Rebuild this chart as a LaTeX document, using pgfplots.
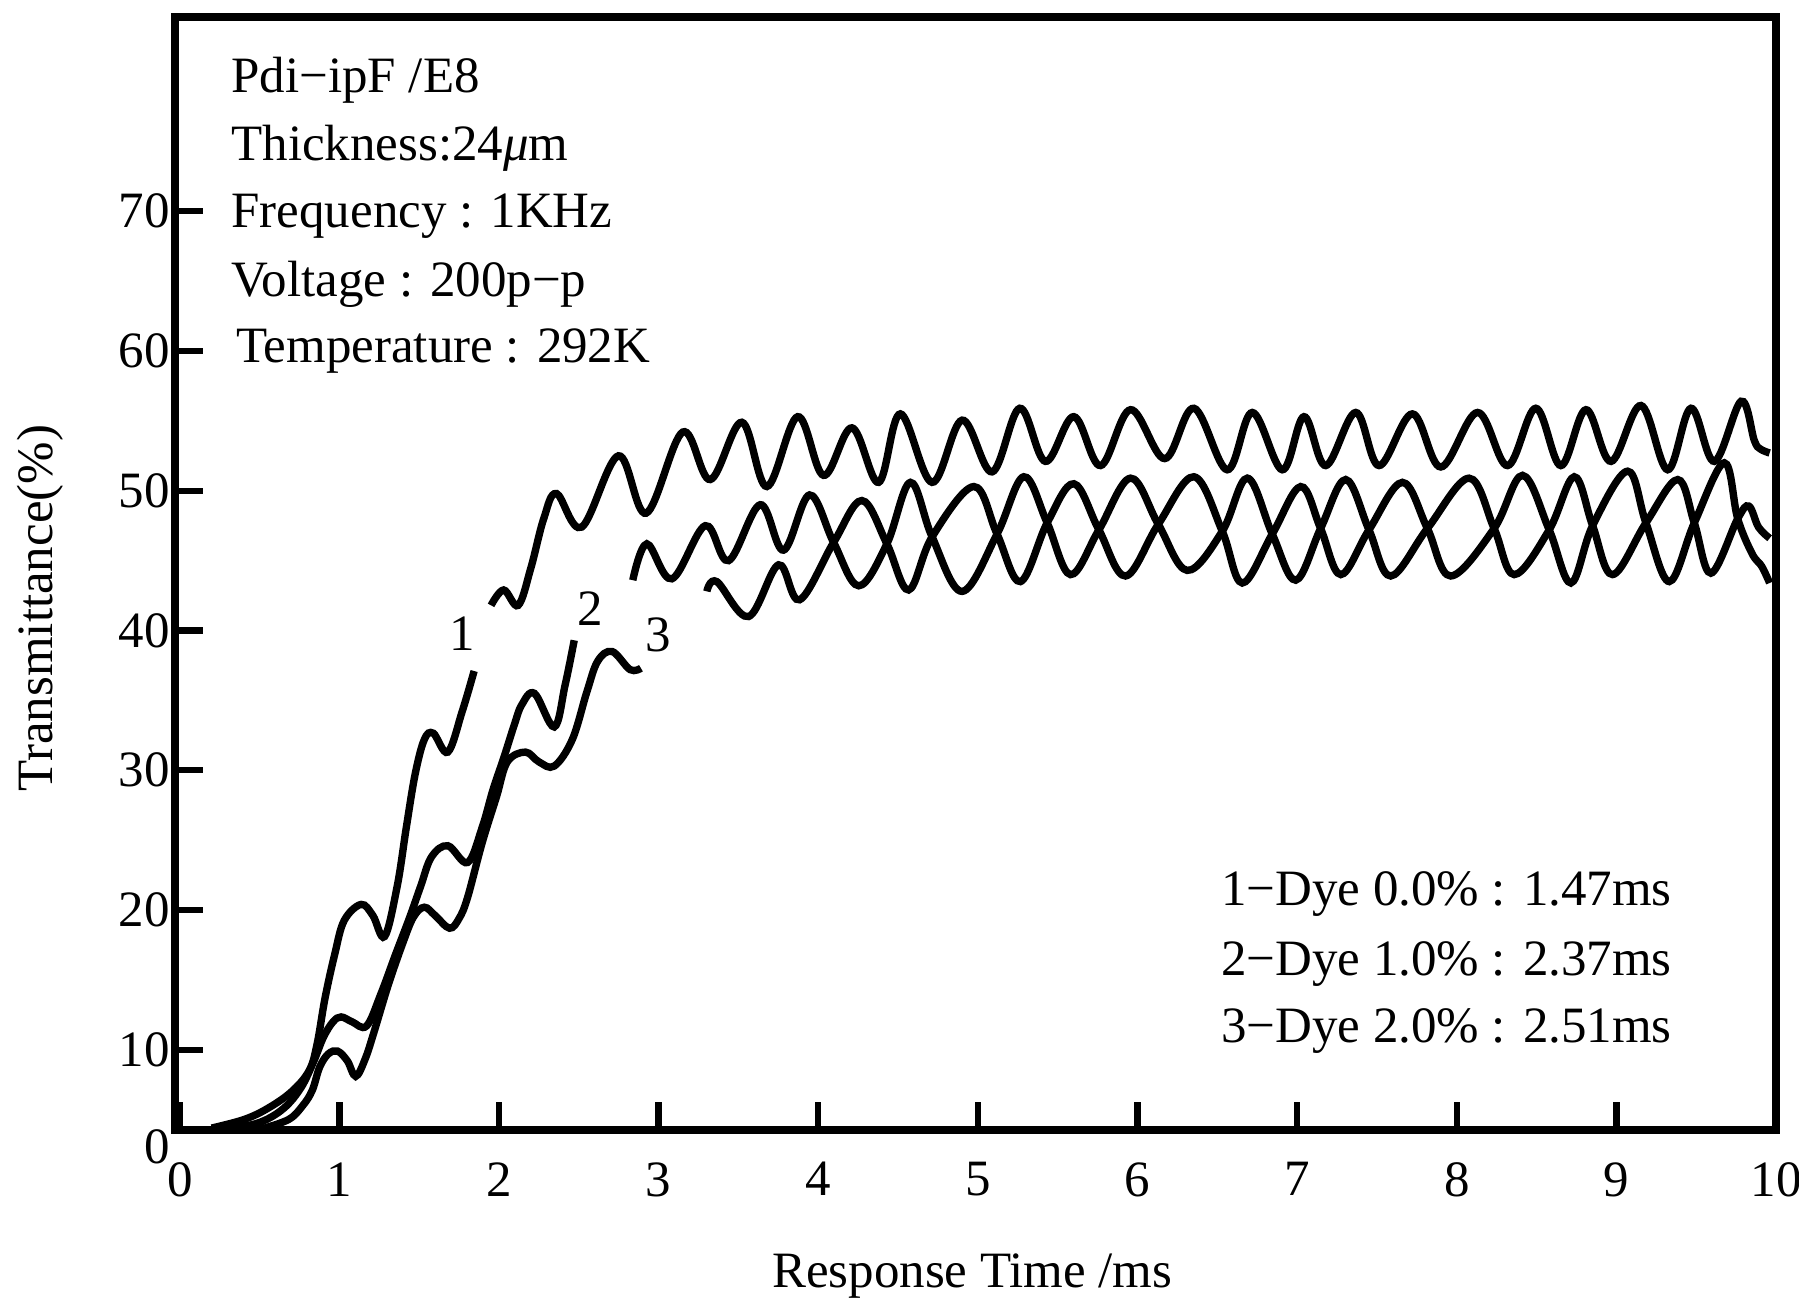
\documentclass[border=0pt]{standalone}
\usepackage{fontspec}
\setmainfont{Liberation Serif}
\usepackage{pgfplots}
\pgfplotsset{compat=1.18}
\begin{document}
\begin{tikzpicture}
\path[use as bounding box] (-1.75cm,-1.73cm) rectangle (16.24cm,11.30cm);
\begin{axis}[
  at={(0,0)}, anchor=south west,
  scale only axis, width=16.01cm, height=11.13cm,
  xmin=-0.03, xmax=10, ymin=4.26, ymax=83.9,
  axis line style={line width=2.2pt},
  xtick={0,1,2,3,4,5,6,7,8,9,10}, xtick pos=bottom,
  ytick={10,20,30,40,50,60,70}, ytick pos=left,
  extra y ticks={4.26}, extra y tick labels={0},
  extra y tick style={major tick length=0pt, yticklabel style={yshift=-0.17cm}},
  tick align=inside,
  major tick length=0.28cm,
  tick style={line width=1.8pt, black},
  /pgf/number format/assume math mode=true,
  ticklabel style={font=\fontsize{14.5}{16}\selectfont},
  xticklabel style={yshift=-0.2cm},
  yticklabel style={xshift=0.07cm},
  xlabel={Response Time /ms},
  ylabel={Transmittance(\%)},
  label style={font=\fontsize{14.5}{17}\selectfont},
  xlabel style={at={(axis description cs:0.498,-0.131)}, anchor=center},
  ylabel style={at={(axis description cs:-0.0843,0.469)}, anchor=center},
  clip=false,
]
% ---- curve 1 ----
\addplot[black, line width=2.1pt, smooth, tension=0.6] coordinates {
(0.20,4.4) (0.40,5.0) (0.55,5.8) (0.70,7.0) (0.81,8.5) (0.86,10.4) (0.91,13.7)
(0.97,16.8) (1.03,19.25) (1.136,20.4) (1.21,19.6) (1.283,18.1) (1.362,21.7)
(1.419,25.9) (1.475,29.75) (1.532,32.2) (1.588,32.65) (1.679,31.3) (1.769,34.2) (1.844,37.1)
};
\addplot[black, line width=2.1pt, smooth, tension=0.6] coordinates {
(1.95,41.8) (2.029,42.9) (2.12,41.8) (2.20,44.5) (2.28,48.0) (2.36,49.8)
(2.518,47.4) (2.748,52.5) (2.922,48.4) (3.151,54.2) (3.323,50.8) (3.521,54.9)
(3.678,50.3) (3.871,55.3) (4.033,51.1) (4.211,54.5) (4.378,50.6) (4.514,55.5)
(4.713,50.6) (4.901,55.05) (5.089,51.35) (5.262,55.9) (5.423,52.1) (5.601,55.3)
(5.768,51.8) (5.956,55.8) (6.170,52.3) (6.353,55.9) (6.562,51.5) (6.719,55.6)
(6.907,51.5) (7.043,55.3) (7.179,51.8) (7.367,55.6) (7.513,51.8) (7.722,55.5)
(7.900,51.7) (8.130,55.6) (8.318,51.8) (8.495,55.9) (8.652,51.8) (8.809,55.8)
(8.966,52.1) (9.154,56.1) (9.321,51.5) (9.467,55.9) (9.613,52.1) (9.781,56.4)
(9.864,53.6) (9.90,53.0) (9.96,52.7)
};
% ---- curve 2 ----
\addplot[black, line width=2.1pt, smooth, tension=0.6] coordinates {
(0.30,4.3) (0.50,4.8) (0.65,5.8) (0.76,7.3) (0.84,9.2) (0.90,10.9) (0.96,12.0)
(1.011,12.35) (1.08,12.0) (1.17,11.7) (1.26,14.0) (1.351,16.8) (1.441,19.5)
(1.509,21.7) (1.577,23.8) (1.679,24.6) (1.803,23.4) (1.894,25.9) (1.962,28.6)
(2.03,30.9) (2.097,33.3) (2.143,34.7) (2.222,35.5) (2.346,33.1) (2.414,36.1) (2.471,39.3)
};
\addplot[black, line width=2.1pt, smooth, tension=0.6] coordinates {
(2.838,43.6) (2.926,46.2) (3.083,43.7) (3.292,47.5) (3.438,45.0) (3.636,49.0)
(3.782,45.75) (3.945,49.7) (4.096,46.3) (4.253,43.2) (4.430,46.2) (4.577,50.6)
(4.713,46.7) (4.901,42.8) (5.120,46.9) (5.287,51.0) (5.434,47.7) (5.580,44.0)
(5.758,47.2) (5.956,50.9) (6.13,47.6) (6.311,44.3) (6.531,47.1) (6.688,50.9)
(6.844,46.9) (6.991,43.6) (7.147,47.3) (7.304,50.8) (7.450,47.2) (7.586,43.9)
(7.816,47.3) (8.077,50.9) (8.234,47.3) (8.360,44.0) (8.579,47.2) (8.736,51.0)
(8.851,47.5) (8.976,44.0) (9.185,47.7) (9.384,50.8) (9.488,47.7) (9.592,44.1)
(9.760,48.0) (9.83,48.9) (9.89,47.4) (9.96,46.6)
};
% ---- curve 3 ----
\addplot[black, line width=2.1pt, smooth, tension=0.6] coordinates {
(0.50,4.3) (0.68,5.0) (0.77,6.0) (0.83,7.1) (0.876,8.75) (0.93,9.7) (0.989,9.9)
(1.05,9.2) (1.102,8.1) (1.16,9.3) (1.215,11.2) (1.305,14.6) (1.396,17.6)
(1.464,19.5) (1.532,20.2) (1.60,19.6) (1.690,18.7) (1.75,19.4) (1.803,20.9)
(1.894,24.8) (1.984,28.1) (2.052,30.6) (2.165,31.3) (2.25,30.6) (2.346,30.3)
(2.459,32.2) (2.55,35.6) (2.618,37.8) (2.708,38.5) (2.821,37.2) (2.889,37.3)
};
\addplot[black, line width=2.1pt, smooth, tension=0.6] coordinates {
(3.302,42.8) (3.364,43.5) (3.563,41.0) (3.751,44.7) (3.883,42.2) (4.096,46.3)
(4.273,49.3) (4.430,46.2) (4.566,42.9) (4.713,46.7) (4.974,50.3) (5.120,46.9)
(5.266,43.5) (5.434,47.7) (5.601,50.5) (5.758,47.2) (5.925,43.9) (6.13,47.6)
(6.353,51.0) (6.531,47.1) (6.656,43.4) (6.844,46.9) (7.022,50.3) (7.147,47.3)
(7.273,44.0) (7.450,47.2) (7.659,50.6) (7.816,47.3) (7.962,43.9) (8.234,47.3)
(8.412,51.1) (8.579,47.2) (8.715,43.4) (8.851,47.5) (9.070,51.4) (9.185,47.7)
(9.331,43.5) (9.488,47.7) (9.676,52.0) (9.760,48.0) (9.85,45.5) (9.91,44.6) (9.96,43.4)
};
% ---- annotations ----
\begin{scope}[every node/.style={font=\fontsize{14.5}{17}\selectfont, inner sep=0pt}]
\node[anchor=base west] at (axis cs:0.32,78.5) {Pdi−ipF /E8};
\node[anchor=base west] at (axis cs:0.32,73.6) {Thickness:24\textit{μ}m};
\node[anchor=base west] at (axis cs:0.32,68.85) {Frequency : 1KHz};
\node[anchor=base west] at (axis cs:0.32,63.9) {Voltage : 200p−p};
\node[anchor=base west] at (axis cs:0.35,59.2) {Temperature : 292K};
\node[anchor=base west] at (axis cs:6.52,20.3) {1−Dye 0.0\% : 1.47ms};
\node[anchor=base west] at (axis cs:6.52,15.35) {2−Dye 1.0\% : 2.37ms};
\node[anchor=base west] at (axis cs:6.52,10.55) {3−Dye 2.0\% : 2.51ms};
\node at (axis cs:1.77,39.8) {1};
\node at (axis cs:2.57,41.6) {2};
\node at (axis cs:3.0,39.7) {3};
\end{scope}
\end{axis}
\end{tikzpicture}
\end{document}
